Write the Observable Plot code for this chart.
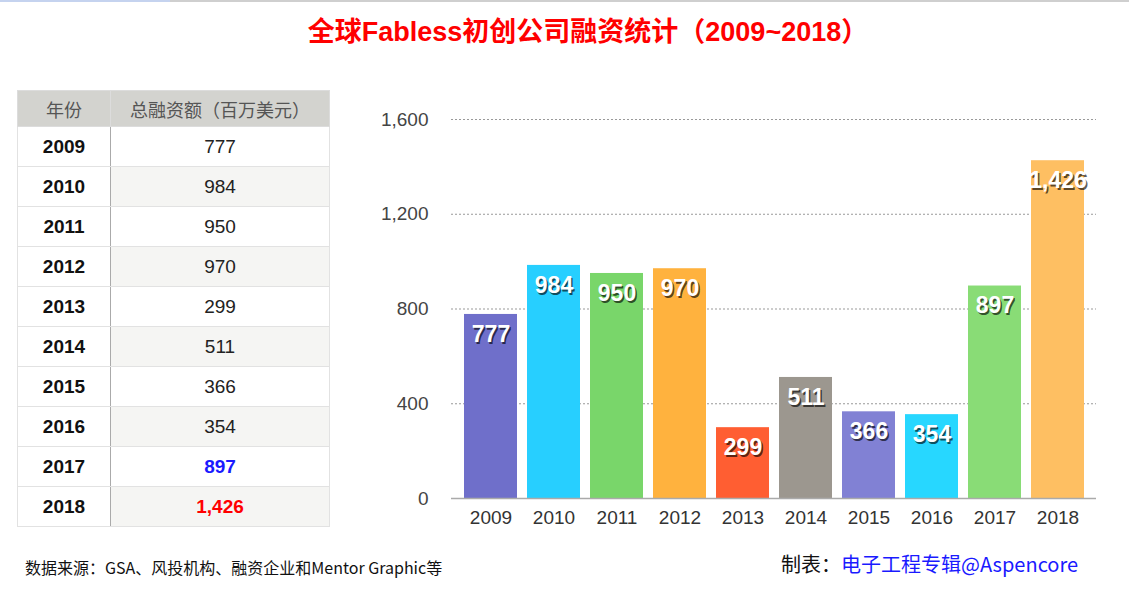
<!DOCTYPE html>
<html>
<head>
<meta charset="utf-8">
<script src="https://cdn.jsdelivr.net/npm/d3@7"></script>
<script src="https://cdn.jsdelivr.net/npm/@observablehq/plot@0.6"></script>
<style>
  html, body { margin: 0; padding: 0; background: #fff; }
  #page { position: relative; width: 1129px; height: 593px; overflow: hidden; background: #fff;
          font-family: "Liberation Sans", "Noto Sans CJK SC", sans-serif; }
  #topline { position: absolute; left: 0; top: 0; width: 1129px; height: 2px; background: #cfcfcf; }
  #topblue { position: absolute; left: 0; top: 0; width: 170px; height: 2px; background: #c5d3ef; }
  #title { position: absolute; left: 0; top: 14px; width: 1176px; text-align: center; color: #ff0000;
           font-family: "Liberation Sans", "Noto Sans CJK SC", sans-serif; font-weight: bold; font-size: 27px; line-height: 36px; }
  #tbl { position: absolute; left: 17px; top: 90px; border-collapse: collapse; }
  #tbl th { background: #d3d3cf; color: #555; font-family: "Noto Sans CJK SC", sans-serif; font-weight: normal;
            font-size: 18px; height: 35px; padding: 0; border: 1px solid #dcdcdc; }
  #tbl td { height: 39px; padding: 0; text-align: center; border: 1px solid #e2e2e2; }
  #tbl td.yr { width: 92px; font-weight: bold; font-size: 19px; color: #111; border-right: 1px solid #aaa; }
  #tbl td.val { width: 218px; font-size: 19px; color: #222; }
  #tbl tr.alt td.val { background: #f5f5f3; }
  #chart { position: absolute; left: 360px; top: 95px; }
  #src { position: absolute; left: 25px; top: 555px; font-family: "Noto Sans CJK SC", sans-serif; font-size: 16px; color: #111; line-height: 24px; }
  #maker { position: absolute; left: 781px; top: 549px; font-family: "Noto Sans CJK SC", sans-serif; font-size: 20px; color: #111; line-height: 30px; }
  #maker span { color: #1a1aff; }
</style>
</head>
<body>
<div id="page">
  <div id="topline"></div><div id="topblue"></div>
  <div id="title">全球Fabless初创公司融资统计（2009~2018）</div>
  <table id="tbl"></table>
  <div id="chart"></div>
  <div id="src">数据来源：GSA、风投机构、融资企业和Mentor Graphic等</div>
  <div id="maker">制表：<span>电子工程专辑@Aspencore</span></div>
</div>
<script>
const years = ["2009","2010","2011","2012","2013","2014","2015","2016","2017","2018"];
const values = [777, 984, 950, 970, 299, 511, 366, 354, 897, 1426];
const barColors = ["#6f6fca","#27cfff","#79d66a","#ffb23e","#ff5e32","#9c978f","#8181d4","#27d7ff","#89dc76","#febf62"];
const yTicks = [0, 400, 800, 1200, 1600];
const tableHeaders = ["年份", "总融资额（百万美元）"];
const tableValueColors = [null,null,null,null,null,null,null,null,"#1a1aff","#ff0000"];

const fmt = d3.format(",");
const data = years.map((y, i) => ({year: y, value: values[i], color: barColors[i]}));

// table
const tbl = d3.select("#tbl");
const hr = tbl.append("tr");
tableHeaders.forEach(h => hr.append("th").text(h));
data.forEach((d, i) => {
  const tr = tbl.append("tr").attr("class", i % 2 === 1 ? "alt" : null);
  tr.append("td").attr("class", "yr").text(d.year);
  const td = tr.append("td").attr("class", "val").text(fmt(d.value));
  if (tableValueColors[i]) td.style("color", tableValueColors[i]).style("font-weight", "bold");
});

const chart = Plot.plot({
  width: 760,
  height: 445,
  marginLeft: 91,
  marginRight: 24,
  marginTop: 24,
  marginBottom: 42,
  style: {fontFamily: "Liberation Sans, sans-serif", fontSize: "19px", color: "#444", background: "transparent"},
  x: {type: "band", domain: years, paddingInner: 0.165, paddingOuter: 0.15, label: null},
  y: {domain: [0, 1600], label: null},
  color: {type: "identity"},
  marks: [
    Plot.gridY(yTicks.filter(t => t > 0), {stroke: "#999", strokeOpacity: 1, strokeDasharray: "2,2"}),
    Plot.barY(data, {x: "year", y: "value", fill: "color"}),
    Plot.ruleY([0], {stroke: "#aaa", strokeWidth: 1.5}),
    Plot.axisY({ticks: yTicks, tickSize: 0, tickPadding: 23, tickFormat: fmt, label: null, fill: "#444"}),
    Plot.axisX({tickSize: 0, tickPadding: 12, label: null, fill: "#333"}),
    Plot.text(data, {x: "year", y: "value", text: d => fmt(d.value), dx: 1.5, dy: 22, fill: "#000", fillOpacity: 0.65,
                     fontWeight: "bold", fontSize: 23, lineAnchor: "middle"}),
    Plot.text(data, {x: "year", y: "value", text: d => fmt(d.value), dy: 20, fill: "#fff",
                     fontWeight: "bold", fontSize: 23, lineAnchor: "middle"})
  ]
});
document.getElementById("chart").appendChild(chart);
</script>
</body>
</html>
